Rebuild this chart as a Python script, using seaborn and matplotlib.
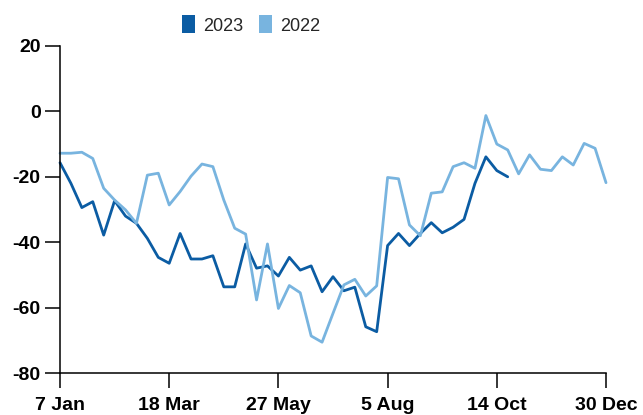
import matplotlib
matplotlib.use("Agg")
import matplotlib.pyplot as plt
import pandas as pd
import seaborn as sns
from matplotlib.patches import Patch

# weekly values
values_2023 = [-15.7, -22.0, -29.4, -27.6, -37.8, -27.3, -32.0, -34.2, -38.8, -44.6,
               -46.4, -37.3, -45.1, -45.1, -44.1, -53.6, -53.6, -40.5, -47.9, -47.2,
               -50.3, -44.6, -48.5, -47.2, -55.1, -50.5, -54.8, -53.7, -65.8, -67.3,
               -41.0, -37.3, -41.0, -37.3, -34.0, -37.1, -35.4, -33.0, -22.0, -13.9,
               -18.1, -20.0]
values_2022 = [-12.8, -12.8, -12.5, -14.4, -23.5, -27.1, -30.1, -34.2, -19.5, -18.9,
               -28.6, -24.5, -19.8, -16.1, -16.9, -27.1, -35.7, -37.5, -57.6, -40.5,
               -60.2, -53.2, -55.4, -68.6, -70.5, -61.7, -53.0, -51.3, -56.4, -53.3,
               -20.2, -20.6, -34.7, -38.0, -25.0, -24.6, -16.9, -15.7, -17.4, -1.3,
               -10.0, -11.8, -19.1, -13.3, -17.7, -18.1, -13.9, -16.4, -9.8, -11.3,
               -21.8]
series = ["2023", "2022"]
tick_pos = [0, 10, 20, 30, 40, 50]
tick_labels = ["7 Jan", "18 Mar", "27 May", "5 Aug", "14 Oct", "30 Dec"]
y_ticks = [20, 0, -20, -40, -60, -80]

colors = {"2023": "#0b5ca3", "2022": "#78b4df"}

df = pd.concat([
    pd.DataFrame({"week": range(len(values_2023)), "value": values_2023, "year": "2023"}),
    pd.DataFrame({"week": range(len(values_2022)), "value": values_2022, "year": "2022"}),
])

sns.set_style("white")
plt.rcParams["font.family"] = ["Liberation Sans", "DejaVu Sans"]

fig = plt.figure(figsize=(6.43, 4.15), dpi=100)
ax = fig.add_axes([60 / 643, (415 - 373.3) / 415, 546 / 643, (373.3 - 45.8) / 415])

sns.lineplot(data=df, x="week", y="value", hue="year", hue_order=series,
             palette=colors, linewidth=2.0, ax=ax, legend=False)
for line in ax.lines:
    line.set_clip_on(False)

ax.set_xlim(0, 50)
ax.set_ylim(-80, 20)
ax.set_xticks(tick_pos)
ax.set_xticklabels(tick_labels)
ax.set_yticks(y_ticks)
ax.set_yticklabels([str(v) for v in y_ticks])
ax.set_xlabel("")
ax.set_ylabel("")

for s in ["top", "right"]:
    ax.spines[s].set_visible(False)
for s in ["left", "bottom"]:
    ax.spines[s].set_color("black")
    ax.spines[s].set_linewidth(1.1)

ax.tick_params(axis="both", direction="out", length=11, width=1.1, color="black",
               labelsize=14, labelcolor="black", bottom=True, left=True)
ax.tick_params(axis="x", pad=6)
ax.tick_params(axis="y", pad=3)
for lbl in ax.get_xticklabels() + ax.get_yticklabels():
    lbl.set_fontweight("bold")

handles = [Patch(facecolor=colors[s], edgecolor="none", label=s) for s in series]
leg = fig.legend(handles=handles, loc="center", bbox_to_anchor=(251 / 643, 1 - 25 / 415),
                 ncol=2, frameon=False, handlelength=0.7, handleheight=1.15,
                 handletextpad=0.45, columnspacing=0.9,
                 prop={"family": ["Liberation Sans Narrow", "Liberation Sans"], "size": 13})

fig.savefig("out.png", dpi=100)
